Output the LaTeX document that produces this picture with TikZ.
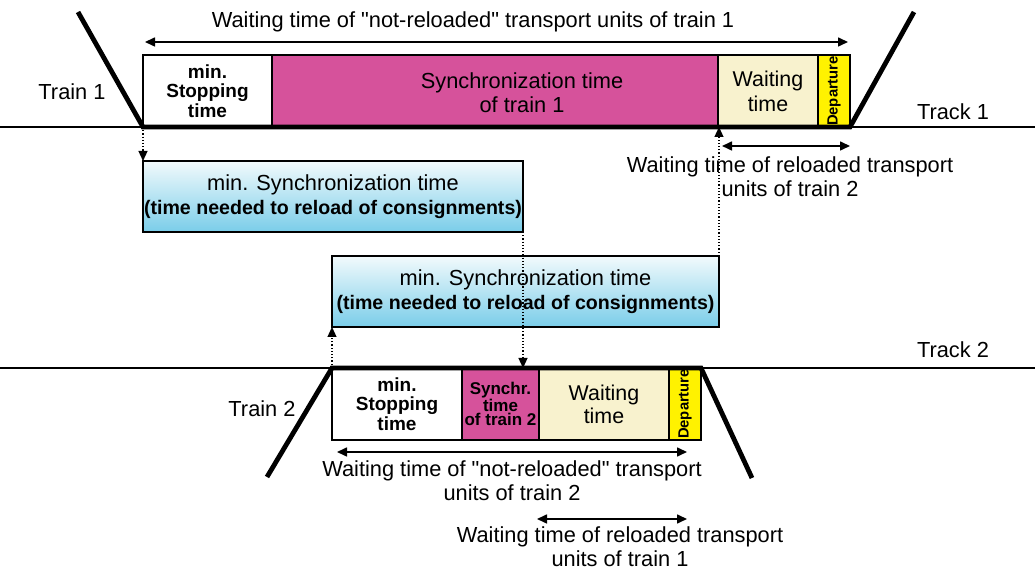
\documentclass[tikz,border=0pt]{standalone}
\usepackage{fontspec}
\setmainfont{Liberation Sans}[Ligatures=TeXOff]
\usetikzlibrary{arrows.meta, positioning, calc}

\definecolor{syncpink}{RGB}{214,82,155}
\definecolor{waitcream}{RGB}{248,242,206}
\definecolor{depyellow}{RGB}{255,242,0}
\definecolor{boxblue}{RGB}{122,205,233}
\definecolor{boxtop}{RGB}{242,250,252}

\begin{document}
\begin{tikzpicture}[
    x=0.5pt, y=-0.5pt,
    blk/.style={rectangle, draw, line width=1pt, outer sep=0pt, inner sep=0pt, minimum height=36pt, align=center},
    stopblk/.style={blk, fill=white, font=\fontsize{9.5}{9.8}\selectfont\bfseries},
    syncblk/.style={blk, fill=syncpink},
    waitblk/.style={blk, fill=waitcream, font=\fontsize{10.7}{12.5}\selectfont},
    depblk/.style={blk, fill=depyellow, minimum width=16pt},
    deptext/.style={rotate=90, font=\fontsize{7.4}{7.4}\selectfont\bfseries, inner sep=0pt},
    msync/.style={rectangle, draw, line width=0.8pt, top color=boxtop, bottom color=boxblue, minimum height=35.5pt, align=center, outer sep=0pt, inner sep=0pt, font=\fontsize{10.9}{12}\selectfont},
    txt/.style={font=\fontsize{10.9}{12}\selectfont, align=center, inner sep=0pt},
    track/.style={line width=0.8pt},
    train/.style={line width=2.4pt},
    span/.style={arrows={Triangle[length=5pt, width=4.5pt]-Triangle[length=5pt, width=4.5pt]}, line width=0.8pt},
    link/.style={-{Triangle[length=5pt, width=4.5pt]}, densely dotted, line width=0.6pt}
]
\useasboundingbox (0,0) rectangle (1035,571);

% Tracks
\coordinate (tr1w) at (0,127);
\coordinate (tr1e) at (1035,127);
\coordinate (tr2w) at (0,368);
\coordinate (tr2e) at (1035,368);
\draw[track] (tr1w) -- (tr1e);
\draw[track] (tr2w) -- (tr2e);
\node[txt] (track1) at (953,112) {Track 1};
\node[txt] (track2) at (953,350) {Track 2};

% Train 1 blocks
\node[stopblk, minimum width=64.5pt, anchor=south west] (stop1) at (143,127) {min.\\Stopping\\time};
\node[syncblk, minimum width=223pt, right=0pt of stop1] (sync1) {};
\node[txt] (sync1txt) at ($(sync1.center)+(27,2)$) {Synchronization time\\of train 1};
\node[waitblk, minimum width=50pt, right=0pt of sync1] (wait1) {Waiting\\time};
\node[depblk, right=0pt of wait1] (dep1) {};
\node[deptext] (dep1txt) at (dep1.center) {Departure};

% Train 2 blocks
\node[stopblk, minimum width=65pt, anchor=north west] (stop2) at (332,368) {min.\\Stopping\\time};
\node[syncblk, minimum width=38.5pt, right=0pt of stop2, font=\fontsize{8.5}{7}\selectfont\bfseries] (sync2) {Synchr.\\time\\of train 2};
\node[waitblk, minimum width=65pt, right=0pt of sync2, font=\fontsize{10.7}{11.5}\selectfont] (wait2) {Waiting\\time};
\node[depblk, right=0pt of wait2] (dep2) {};
\node[deptext] (dep2txt) at (dep2.center) {Departure};

% Train paths
\coordinate (t1in) at (78,12);
\coordinate (t1out) at (914,12);
\coordinate (t2in) at (267,477);
\coordinate (t2out) at (752,478);
\draw[train] (t1in) -- (stop1.south west) -- (dep1.south east) -- (t1out);
\draw[train] (t2in) -- (stop2.north west) -- (dep2.north east) -- (t2out);
\node[txt] (train1) at (72,92) {Train 1};
\node[txt] (train2) at (262,409) {Train 2};

% min. synchronization boxes
\node[msync, minimum width=190pt, anchor=north west] (msync1) at (143,161)
    {min. Synchronization time\\{\fontsize{9.8}{11}\selectfont\bfseries (time needed to reload of consignments)}};
\node[msync, minimum width=193.5pt, anchor=north west] (msync2) at (332,256)
    {min. Synchronization time\\{\fontsize{9.8}{11}\selectfont\bfseries (time needed to reload of consignments)}};

% Dependencies
\draw[link] (stop1.south west) -- (msync1.north west);
\draw[link] (msync1.south east) -- (msync1.south east |- sync2.north);
\draw[link] (msync2.north east) -- (msync2.north east |- wait1.south);
\draw[link] (stop2.north west) -- (msync2.south west);

% Waiting time spans
\coordinate (w1a) at (145,42);
\coordinate (w1b) at (848,42);
\draw[span] (w1a) -- (w1b);
\node[txt] (w1lbl) at (473,22) {Waiting time of "not-reloaded" transport units of train 1};

\coordinate (r2a) at (722,146);
\coordinate (r2b) at (850,146);
\draw[span] (r2a) -- (r2b);
\node[txt] (r2lbl) at (790,177) {Waiting time of reloaded transport\\units of train 2};

\coordinate (w2a) at (337,452);
\coordinate (w2b) at (687,452);
\draw[span] (w2a) -- (w2b);
\node[txt] (w2lbl) at (512,481) {Waiting time of "not-reloaded" transport\\units of train 2};

\coordinate (r1a) at (537,519);
\coordinate (r1b) at (687,519);
\draw[span] (r1a) -- (r1b);
\node[txt] (r1lbl) at (620,547) {Waiting time of reloaded transport\\units of train 1};

\end{tikzpicture}
\end{document}
